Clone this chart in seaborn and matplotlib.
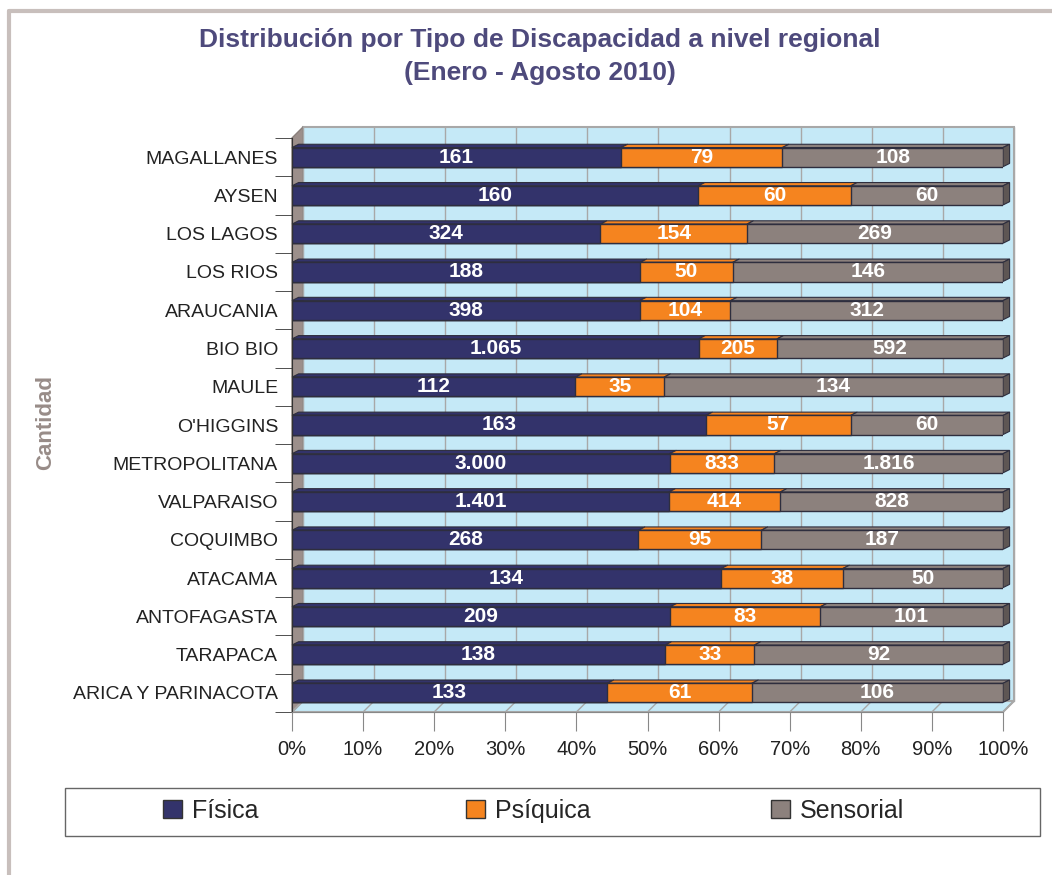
import numpy as np
import pandas as pd
import matplotlib
matplotlib.use('Agg')
import matplotlib.pyplot as plt
import seaborn as sns
from matplotlib.patches import Polygon, Rectangle
from matplotlib.lines import Line2D

regiones = ['MAGALLANES', 'AYSEN', 'LOS LAGOS', 'LOS RIOS', 'ARAUCANIA', 'BIO BIO',
            'MAULE', "O'HIGGINS", 'METROPOLITANA', 'VALPARAISO', 'COQUIMBO',
            'ATACAMA', 'ANTOFAGASTA', 'TARAPACA', 'ARICA Y PARINACOTA']
fisica = [161, 160, 324, 188, 398, 1065, 112, 163, 3000, 1401, 268, 134, 209, 138, 133]
psiquica = [79, 60, 154, 50, 104, 205, 35, 57, 833, 414, 95, 38, 83, 33, 61]
sensorial = [108, 60, 269, 146, 312, 592, 134, 60, 1816, 828, 187, 50, 101, 92, 106]
series = ['Física', 'Psíquica', 'Sensorial']
colores = ['#33336B', '#F5841F', '#8C817D']

df = pd.DataFrame({'region': regiones, 'Física': fisica,
                   'Psíquica': psiquica, 'Sensorial': sensorial})
tot = df[series].sum(axis=1)
df['p1'] = df['Física'] / tot
df['p2'] = (df['Física'] + df['Psíquica']) / tot
df['p3'] = 1.0

def fmt(v):
    return f'{v:,}'.replace(',', '.')

sns.set_style('white')
plt.rcParams['font.family'] = ['Liberation Sans', 'DejaVu Sans']

fig = plt.figure(figsize=(10.52, 8.75), dpi=100)
ax = fig.add_axes([292/1052, 1-712/875, 711/1052, 574/875])
ax.set_facecolor('none')

# depth of the fake 3D box, in data units
dx = 11/711
dy = 11/(574/15)
y0, y1 = 14.5, -0.5

wall = '#C5E9F7'
side = '#9C8F8B'
grid = '#A8A8A8'
ax.add_patch(Rectangle((dx, y1 - dy), 1, 15, facecolor=wall, edgecolor=grid,
                       lw=1.5, zorder=0, clip_on=False))
ax.add_patch(Polygon([(0, y0), (0, y1), (dx, y1 - dy), (dx, y0 - dy)],
                     facecolor=side, edgecolor='#8A807C', lw=1, zorder=0.5, clip_on=False))
ax.add_patch(Polygon([(0, y0), (1, y0), (1 + dx, y0 - dy), (dx, y0 - dy)],
                     facecolor=wall, edgecolor=grid, lw=1.5, zorder=0.5, clip_on=False))
ticks = np.linspace(0, 1, 11)
for t in ticks:
    ax.plot([t + dx, t + dx], [y0 - dy, y1 - dy], color=grid, lw=1, zorder=0.6, clip_on=False)
    ax.plot([t, t + dx], [y0, y0 - dy], color=grid, lw=1, zorder=0.6, clip_on=False)

kw = dict(orient='h', width=0.5, edgecolor='#2E2E3E', linewidth=1, saturation=1, zorder=2)
sns.barplot(data=df, x='p3', y='region', color=colores[2], ax=ax, **kw)
sns.barplot(data=df, x='p2', y='region', color=colores[1], ax=ax, **kw)
sns.barplot(data=df, x='p1', y='region', color=colores[0], ax=ax, **kw)

# bar tops / ends for the 3D look
for i in range(len(df)):
    starts = [0, df['p1'][i], df['p2'][i]]
    ends = [df['p1'][i], df['p2'][i], 1.0]
    for s, e, c in zip(starts, ends, colores):
        ax.add_patch(Polygon([(s, i - 0.25), (e, i - 0.25), (e + dx*0.6, i - 0.25 - dy*0.3),
                              (s + dx*0.6, i - 0.25 - dy*0.3)],
                             facecolor=c, edgecolor='#2E2E3E', lw=0.8, zorder=1.9, clip_on=False))
    ax.add_patch(Polygon([(1, i - 0.25), (1, i + 0.25), (1 + dx*0.6, i + 0.25 - dy*0.3),
                          (1 + dx*0.6, i - 0.25 - dy*0.3)],
                         facecolor='#5E5654', edgecolor='#2E2E3E', lw=0.8, zorder=1.9, clip_on=False))
    vals = [df['Física'][i], df['Psíquica'][i], df['Sensorial'][i]]
    for s, e, v in zip(starts, ends, vals):
        ax.text((s + e) / 2, i, fmt(v), ha='center', va='center', color='white',
                fontsize=15, fontweight='bold', zorder=3)

ax.set_xlim(0, 1)
ax.set_ylim(y0, y1)
ax.set_xticks(ticks)
ax.set_xticklabels([f'{int(round(t*100))}%' for t in ticks], fontsize=14.5, color='#222222')
ax.set_yticks(np.arange(len(df) + 1) - 0.5, minor=True)
ax.tick_params(axis='y', which='major', labelsize=14, length=0, pad=10, labelcolor='#222222')
ax.tick_params(axis='y', which='minor', length=12, color='#333333', left=True)
ax.tick_params(axis='x', length=14, color='#888888', pad=6, bottom=True)
for sp in ['top', 'right']:
    ax.spines[sp].set_visible(False)
ax.spines['left'].set_color('#333333')
ax.spines['bottom'].set_color('#888888')
ax.set_ylabel('')
ax.set_xlabel('')
fig.text(46/1052, 1-423/875, 'Cantidad', rotation=90, ha='center', va='center',
         fontsize=16, fontweight='bold', color='#988C88')

fig.text(0.513, 1-40/875, 'Distribución por Tipo de Discapacidad a nivel regional',
         ha='center', va='center', fontsize=19, fontweight='bold', color='#4E4A7C')
fig.text(0.513, 1-73/875, '(Enero - Agosto 2010)',
         ha='center', va='center', fontsize=19, fontweight='bold', color='#4E4A7C')

# legend: one box, three entries placed like the original
fig.add_artist(Rectangle((65/1052, 1-836/875), 975/1052, 48/875, transform=fig.transFigure,
                         facecolor='white', edgecolor='#666666', lw=1))
for name, c, xpos in zip(series, colores, [163, 466, 771]):
    h = Rectangle((0, 0), 1, 1, facecolor=c, edgecolor='#333333')
    fig.legend([h], [name], loc='center left', bbox_to_anchor=(xpos/1052, 1-811/875),
               fontsize=18, frameon=False, handlelength=0.75, handleheight=0.75,
               handletextpad=0.4, borderaxespad=0, borderpad=0)

fig.add_artist(Line2D([9/1052, 9/1052], [0, 1-11/875], color='#C8BFBC', lw=3))
fig.add_artist(Line2D([9/1052, 1], [1-11/875, 1-11/875], color='#C8BFBC', lw=3))

fig.savefig('out.png', dpi=100)
